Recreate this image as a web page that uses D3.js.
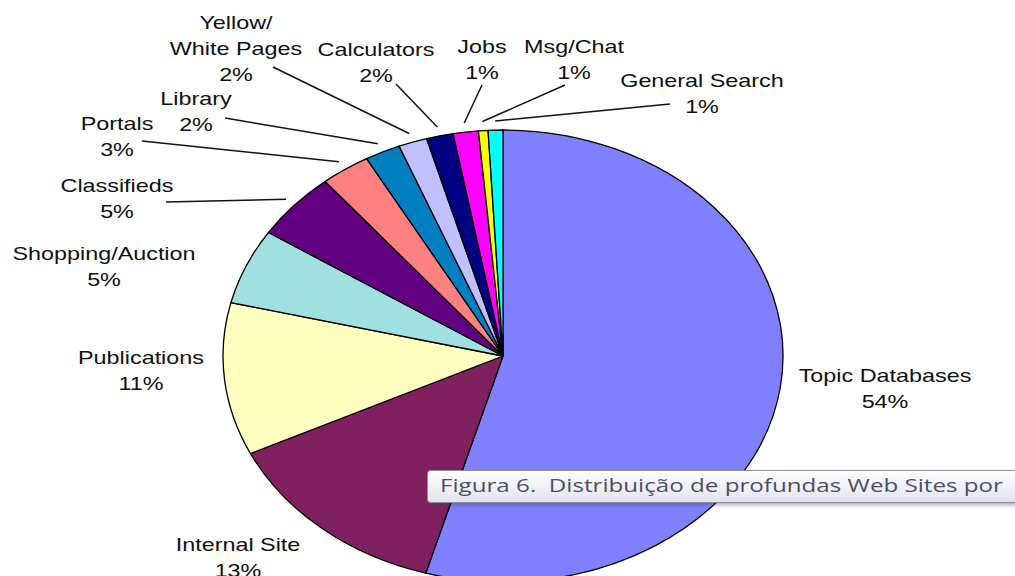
<!DOCTYPE html>
<html>
<head>
	<meta charset="utf-8" />
	<script src="https://cdn.jsdelivr.net/npm/d3@7/dist/d3.min.js"></script>
	<style>
		body { margin: 0; background: #ffffff; }
		.label {
			font-family: "Liberation Sans", Arial, sans-serif;
			font-size: 19px;
			fill: #111111;
		}
		.leader {
			stroke: #111111;
			stroke-width: 1.5px;
		}
		.tiptext {
			font-family: "Open Sans", "Noto Sans", sans-serif;
			font-size: 19px;
			fill: #4f4f62;
			white-space: pre;
		}
	</style>
</head>
<body>
	<script>
		// data (clockwise from 12 o'clock)
		var categories = ["Topic Databases", "Internal Site", "Publications", "Shopping/Auction", "Classifieds",
			"Portals", "Library", "Yellow/White Pages", "Calculators", "Jobs", "Msg/Chat", "General Search"];
		var shares = [54.45, 13.45, 10.9, 5.4, 4.85, 2.85, 2.05, 1.65, 1.55, 1.45, 0.55, 0.85];
		var colors = ["#8080ff", "#802060", "#ffffc0", "#a0e0e0", "#600080", "#ff8080",
			"#0080c0", "#c0c0ff", "#000080", "#ff00ff", "#ffff00", "#00ffff"];

		// label text lines, label anchors (centre x, first baseline) and leader starts
		var labelLines = [["Topic Databases"], ["Internal Site"], ["Publications"], ["Shopping/Auction"], ["Classifieds"],
			["Portals"], ["Library"], ["Yellow/", "White Pages"], ["Calculators"], ["Jobs"], ["Msg/Chat"], ["General Search"]];
		var labelAt = [[885, 382], [238, 551], [141, 364], [104, 260], [117, 192],
			[117, 130], [196, 105], [236, 29], [376, 56], [482, 53], [574, 53], [702, 87]];
		var leaderFrom = [null, null, null, null, [166, 202],
			[142, 141], [225, 118], [273, 67], [396, 84], [482, 85], [565, 85], [670, 104]];

		var width = 1015;
		var height = 576;
		var cx = 503;
		var cy = 356;
		var r = 226;
		var sx = 280 / 226;   // the original pie is stretched sideways
		var lineGap = 26;

		var svg = d3.select("body")
					.append("svg")
					.attr("width", width)
					.attr("height", height);

		svg.append("rect")
			.attr("width", width)
			.attr("height", height)
			.attr("fill", "white");

		var total = d3.sum(shares);
		var pie = d3.pie().sort(null).value(function(d) { return d; });
		var arcs = pie(shares);
		var arc = d3.arc().innerRadius(0).outerRadius(r);
		var edge = d3.arc().innerRadius(r * 1.04).outerRadius(r * 1.04);

		var pieG = svg.append("g")
			.attr("transform", "translate(" + cx + "," + cy + ") scale(" + sx + ",1)");

		pieG.selectAll("path")
			.data(arcs)
			.enter().append("path")
			.attr("d", arc)
			.attr("fill", function(d, i) { return colors[i]; })
			.attr("stroke", "#000")
			.attr("stroke-width", 1.3)
			.attr("vector-effect", "non-scaling-stroke")
			.attr("stroke-linejoin", "round");

		// leader lines from label to slice edge
		svg.append("g")
			.selectAll("line")
			.data(arcs.filter(function(d, i) { return leaderFrom[i]; }))
			.enter().append("line")
			.attr("class", "leader")
			.attr("x1", function(d) { return leaderFrom[d.index][0]; })
			.attr("y1", function(d) { return leaderFrom[d.index][1]; })
			.attr("x2", function(d) { return cx + edge.centroid(d)[0] * sx; })
			.attr("y2", function(d) { return cy + edge.centroid(d)[1]; });

		var labels = svg.append("g")
			.selectAll("g")
			.data(arcs)
			.enter().append("g")
			.attr("transform", function(d, i) {
				return "translate(" + labelAt[i][0] + "," + labelAt[i][1] + ") scale(1.23,1)";
			});

		labels.each(function(d, i) {
			var g = d3.select(this);
			var lines = labelLines[i].concat([Math.round(d.value / total * 100) + "%"]);
			lines.forEach(function(t, k) {
				g.append("text")
					.attr("class", "label")
					.attr("text-anchor", "middle")
					.attr("y", k * lineGap)
					.text(t);
			});
		});

		// caption tooltip lying over the chart
		var defs = svg.append("defs");
		var grad = defs.append("linearGradient")
			.attr("id", "tipfill")
			.attr("x1", 0).attr("y1", 0).attr("x2", 0).attr("y2", 1);
		grad.append("stop").attr("offset", "0%").attr("stop-color", "#ffffff");
		grad.append("stop").attr("offset", "100%").attr("stop-color", "#e2e3ef");

		var shadow = defs.append("filter").attr("id", "tipshadow")
			.attr("x", "-5%").attr("y", "-30%").attr("width", "110%").attr("height", "180%");
		shadow.append("feGaussianBlur").attr("stdDeviation", 2);

		svg.append("rect")
			.attr("x", 429).attr("y", 473)
			.attr("width", 620).attr("height", 32)
			.attr("rx", 3)
			.attr("fill", "#404060")
			.attr("opacity", 0.45)
			.attr("filter", "url(#tipshadow)");

		svg.append("rect")
			.attr("x", 427.5).attr("y", 470.5)
			.attr("width", 620).attr("height", 32)
			.attr("rx", 3)
			.attr("fill", "url(#tipfill)")
			.attr("stroke", "#8e8e96");

		svg.append("text")
			.attr("class", "tiptext")
			.attr("x", 440)
			.attr("y", 492)
			.attr("textLength", 563)
			.attr("lengthAdjust", "spacingAndGlyphs")
			.text("Figura 6.  Distribuição de profundas Web Sites por");
	</script>
</body>
</html>
